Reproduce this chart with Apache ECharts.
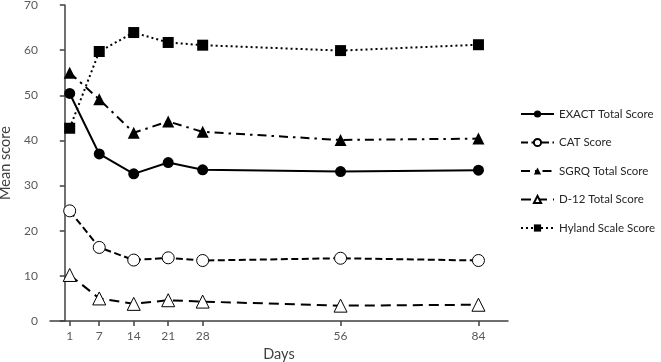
<!DOCTYPE html>
<html>
<head>
<meta charset="utf-8">
<script src="https://cdn.jsdelivr.net/npm/echarts@6/dist/echarts.min.js"></script>
<style>
  html, body { margin: 0; padding: 0; background: #fff; }
  #chart { width: 661px; height: 362px; }
</style>
</head>
<body>
<div id="chart"></div>
<script>
const days = [1, 7, 14, 21, 28, 56, 84];
const yTicks = [0, 10, 20, 30, 40, 50, 60, 70];

const exactScore = [50.4, 37.0, 32.6, 35.1, 33.5, 33.1, 33.4];
const catScore = [24.4, 16.3, 13.5, 14.0, 13.4, 13.9, 13.4];
const sgrqScore = [55.0, 49.1, 41.7, 44.2, 41.9, 40.1, 40.4];
const d12Score = [10.2, 5.0, 3.8, 4.6, 4.3, 3.4, 3.6];
const hylandScore = [42.7, 59.7, 63.9, 61.7, 61.1, 59.9, 61.2];

const FONT = 'Lato';
const INK = '#000';

const pairs = (vals) => days.map((d, i) => [d, vals[i]]);

const makeSeries = (name, vals, symbol, size, filled, dash, width) => ({
  name,
  type: 'line',
  data: pairs(vals),
  symbol,
  symbolSize: size,
  showAllSymbol: true,
  animation: false,
  lineStyle: { color: INK, width: width || 2, type: dash },
  itemStyle: {
    color: filled ? INK : '#fff',
    borderColor: INK,
    borderWidth: filled ? 0 : 1,
  },
  emphasis: { disabled: true },
});

const chart = echarts.init(document.getElementById('chart'), null, { renderer: 'canvas' });

chart.setOption({
  backgroundColor: '#fff',
  textStyle: { fontFamily: FONT },
  grid: { left: 50, top: 5, right: 153, bottom: 41, containLabel: false, outerBoundsMode: 'none' },
  legend: {
    orient: 'vertical',
    left: 520,
    top: 108,
    padding: 0,
    itemWidth: 33,
    itemHeight: 9,
    itemGap: 16.5,
    textStyle: { fontFamily: FONT, fontSize: 11.5, color: '#262626' },
    data: ['EXACT Total Score', 'CAT Score', 'SGRQ Total Score', 'D-12 Total Score', 'Hyland Scale Score'],
  },
  xAxis: {
    type: 'value',
    min: -3,
    max: 90,
    name: 'Days',
    nameLocation: 'middle',
    nameGap: 26,
    nameTextStyle: { fontFamily: FONT, fontSize: 14.5, color: '#404040' },
    axisLine: { show: true, onZero: false, lineStyle: { color: '#404040', width: 1.5 } },
    axisTick: { show: true, length: 5, customValues: days, lineStyle: { color: '#404040', width: 1.5 } },
    axisLabel: { customValues: days, fontFamily: FONT, fontSize: 12, color: '#595959', margin: 9 },
    splitLine: { show: false },
  },
  yAxis: {
    type: 'value',
    min: 0,
    max: 70,
    interval: 10,
    name: 'Mean score',
    nameLocation: 'middle',
    nameGap: 33,
    nameTextStyle: { fontFamily: FONT, fontSize: 14.5, color: '#404040' },
    axisLine: { show: true, lineStyle: { color: '#404040', width: 1.5 } },
    axisTick: { show: true, length: 5, customValues: yTicks, lineStyle: { color: '#404040', width: 1.5 } },
    axisLabel: { fontFamily: FONT, fontSize: 12, color: '#595959', margin: 12 },
    splitLine: { show: false },
  },
  series: [
    makeSeries('EXACT Total Score', exactScore, 'circle', 11, true, 'solid'),
    makeSeries('CAT Score', catScore, 'circle', 12, false, [7, 3.5]),
    makeSeries('SGRQ Total Score', sgrqScore, 'triangle', 12, true, [9, 5, 2.5, 5]),
    makeSeries('D-12 Total Score', d12Score, 'triangle', 13, false, [10, 6]),
    makeSeries('Hyland Scale Score', hylandScore, 'rect', 11, true, [2, 3]),
  ],
});
</script>
</body>
</html>
